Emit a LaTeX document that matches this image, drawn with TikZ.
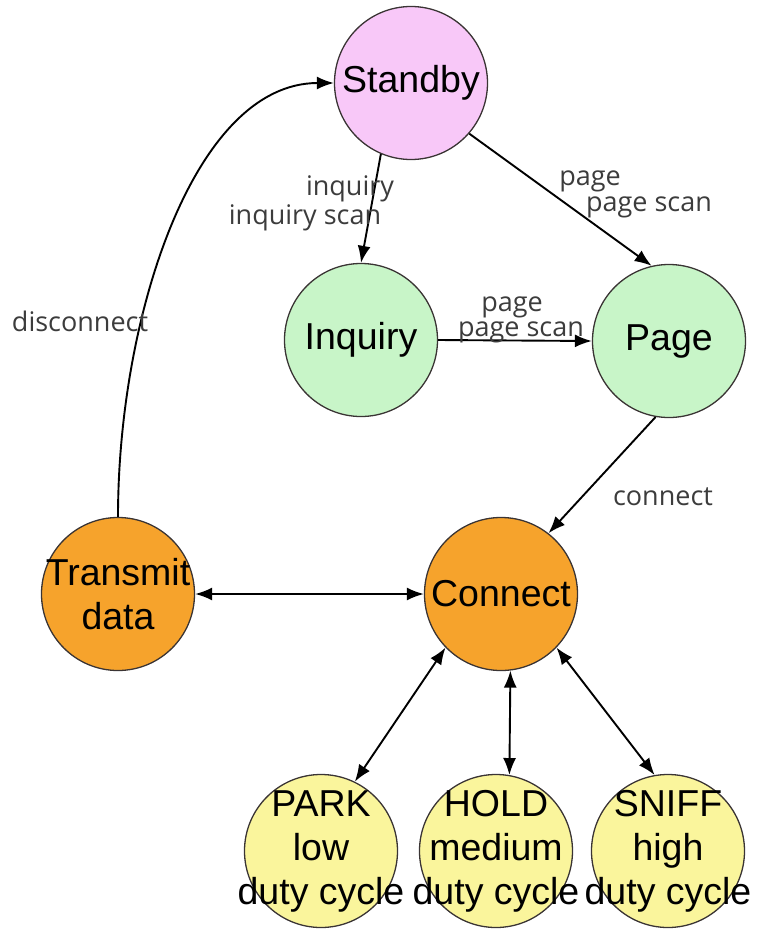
\documentclass[tikz,border=0pt]{standalone}
\usepackage{fontspec}
\setmainfont{Liberation Sans}
\newfontfamily\labelfont{Open Sans}
\usetikzlibrary{arrows.meta}
\newcommand{\zw}[1]{\makebox[0pt]{#1}}
\definecolor{standbypink}{HTML}{F8C8F8}
\definecolor{scangreen}{HTML}{C8F5C8}
\definecolor{linkorange}{HTML}{F6A32C}
\definecolor{modeyellow}{HTML}{FAF59C}
\definecolor{rimgray}{HTML}{3A3434}
\definecolor{labelgray}{HTML}{3C3C3C}
\tikzset{
  state/.style={circle, draw=rimgray, line width=1.3pt, minimum size=153pt,
    inner sep=0pt, align=center, font=\fontsize{37.5}{44}\selectfont},
  flow/.style={line width=1.9pt, -{Latex[length=17pt,width=13pt]}},
  twoway/.style={line width=1.9pt, {Latex[length=17pt,width=13pt]}-{Latex[length=17pt,width=13pt]}},
  edgetext/.style={font=\labelfont\fontsize{27}{30}\selectfont, text=labelgray, inner sep=0pt}
}
\begin{document}
\begin{tikzpicture}[x=1pt,y=-1pt]
  \useasboundingbox (0,0) rectangle (766,930);

  % states
  \node[state, fill=standbypink] (s) at (411,83) {Standby};
  \node[state, fill=scangreen] (i) at (361,340) {Inquiry};
  \node[state, fill=scangreen] (p) at (669,341) {Page};
  \node[state, fill=linkorange] (c) at (501,594) {Connect};
  \node[state, fill=linkorange] (t) at (118,594) {\zw{Transmit}\\\zw{data}};
  \node[state, fill=modeyellow] (park) at (321,851) {\zw{PARK}\\\zw{low}\\\zw{duty cycle}};
  \node[state, fill=modeyellow] (hold) at (496,851) {\zw{HOLD}\\\zw{medium}\\\zw{duty cycle}};
  \node[state, fill=modeyellow] (sniff) at (668,851) {\zw{SNIFF}\\\zw{high}\\\zw{duty cycle}};

  % transitions
  \draw[flow] (s.247) -- (i.north);
  \draw[flow] (s.319) -- (p.103);
  \draw[flow] (i.east) -- (p.west);
  \draw[flow] (p.260) -- (c.52);
  \draw[twoway] (t.east) -- (c.west);
  \draw[flow] (t.north) .. controls +(0,-200) and +(-140,0) .. (s.west);
  \draw[twoway] (c.224) -- (park.64);
  \draw[twoway] (c.-83) -- (hold.80);
  \draw[twoway] (c.316) -- (sniff.100);

  % transition labels
  \node[edgetext] (l1) at (350,189) {inquiry};
  \node[edgetext] (l2) at (305,218) {inquiry scan};
  \node[edgetext] (l3) at (590,181) {page};
  \node[edgetext] (l4) at (649,207) {page scan};
  \node[edgetext] (l5) at (512,307) {page};
  \node[edgetext] (l6) at (521,332) {page scan};
  \node[edgetext] (l7) at (663,497) {connect};
  \node[edgetext] (l8) at (80,321) {disconnect};
\end{tikzpicture}
\end{document}
